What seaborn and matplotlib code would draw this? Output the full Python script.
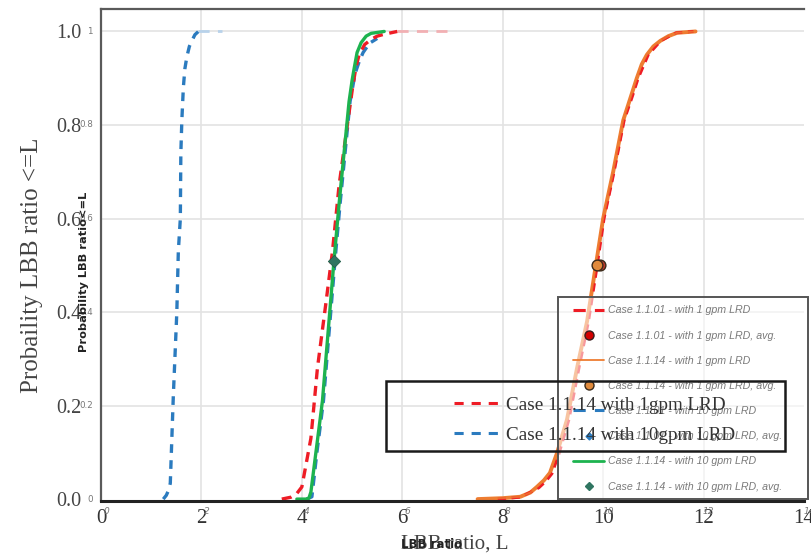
import numpy as np
import pandas as pd
import matplotlib
matplotlib.use("Agg")
import matplotlib.pyplot as plt
import seaborn as sns
from matplotlib.lines import Line2D
from matplotlib.patches import Rectangle
import matplotlib.transforms as mtransforms

# ---------------- data ----------------
# Case 1.1.01 - with 10 gpm LRD (blue dashed, low)
x_1101_10 = [1.24, 1.30, 1.35, 1.38, 1.44, 1.51, 1.54, 1.58, 1.59, 1.61, 1.64, 1.67, 1.71, 1.76, 1.81, 1.87, 1.94]
y_1101_10 = [0.0, 0.008, 0.02, 0.034, 0.22, 0.40, 0.53, 0.60, 0.74, 0.81, 0.88, 0.92, 0.946, 0.968, 0.98, 0.993, 1.0]
x_1101_10_tail = [1.94, 2.4]
y_1101_10_tail = [1.0, 1.0]

# Case 1.1.01 - with 1 gpm LRD (red dashed, near green)
x_1101_1 = [3.6, 3.78, 3.9, 4.0, 4.18, 4.31, 4.48, 4.61, 4.74, 4.88, 5.01, 5.08, 5.14, 5.25, 5.38, 5.5, 5.64, 5.9]
y_1101_1 = [0.0, 0.004, 0.012, 0.026, 0.13, 0.28, 0.42, 0.53, 0.67, 0.78, 0.88, 0.925, 0.95, 0.972, 0.983, 0.99, 0.994, 1.0]
x_1101_1_tail = [5.9, 7.0]
y_1101_1_tail = [1.0, 1.0]

# Case 1.1.14 with 10gpm LRD (blue dashed, overlay chart)
x_1114_10b = [4.10, 4.20, 4.30, 4.43, 4.56, 4.66, 4.76, 4.86, 4.96, 5.06, 5.14, 5.22, 5.35, 5.50]
y_1114_10b = [0.0, 0.005, 0.10, 0.21, 0.38, 0.51, 0.63, 0.74, 0.85, 0.91, 0.935, 0.955, 0.975, 0.985]

# Case 1.1.14 - with 10 gpm LRD (green solid)
x_1114_10 = [3.9, 4.08, 4.14, 4.18, 4.28, 4.41, 4.54, 4.64, 4.74, 4.84, 4.94, 5.0, 5.04, 5.10, 5.18, 5.28, 5.38, 5.64]
y_1114_10 = [0.0, 0.0, 0.002, 0.015, 0.10, 0.21, 0.38, 0.51, 0.63, 0.74, 0.85, 0.895, 0.92, 0.955, 0.976, 0.99, 0.996, 1.0]

# Case 1.1.14 - with 1 gpm LRD (orange solid)
x_1114_1 = [7.5, 8.0, 8.35, 8.55, 8.68, 8.82, 8.94, 9.08, 9.28, 9.48, 9.68, 9.84, 10.0, 10.2, 10.4, 10.55, 10.67, 10.77, 10.87, 11.0, 11.14, 11.3, 11.47, 11.84]
y_1114_1 = [0.0, 0.002, 0.005, 0.014, 0.026, 0.04, 0.056, 0.098, 0.17, 0.28, 0.38, 0.49, 0.60, 0.70, 0.81, 0.86, 0.90, 0.93, 0.95, 0.968, 0.98, 0.99, 0.997, 1.0]

# Case 1.1.14 with 1gpm LRD (red dashed along orange, overlay chart)
x_1114_1b = [7.9, 8.35, 8.72, 8.86, 8.98, 9.12, 9.32, 9.52, 9.71, 9.87, 10.02, 10.22, 10.42, 10.58, 10.7, 10.9, 11.15, 11.45, 11.8]
y_1114_1b = [0.0, 0.004, 0.024, 0.038, 0.054, 0.096, 0.17, 0.28, 0.38, 0.49, 0.60, 0.70, 0.81, 0.86, 0.90, 0.95, 0.98, 0.997, 1.0]

# averages
avg_x = [9.94, 9.88, 4.64, 4.64]
avg_y = [0.50, 0.50, 0.51, 0.51]

x_ticks = [0, 2, 4, 6, 8, 10, 12, 14]
y_ticks = [0.0, 0.2, 0.4, 0.6, 0.8, 1.0]
y_big_labels = ["0.0", "0.2", "0.4", "0.6", "0.8", "1.0"]
y_small_labels = ["0", "0.2", "0.4", "0.6", "0.8", "1"]

small_legend_labels = [
    "Case 1.1.01 - with 1 gpm LRD",
    "Case 1.1.01 - with 1 gpm LRD, avg.",
    "Case 1.1.14 - with 1 gpm LRD",
    "Case 1.1.14 - with 1 gpm LRD, avg.",
    "Case 1.1.01 - with 10 gpm LRD",
    "Case 1.1.01 - with 10 gpm LRD, avg.",
    "Case 1.1.14 - with 10 gpm LRD",
    "Case 1.1.14 - with 10 gpm LRD, avg.",
]
big_legend_labels = ["Case 1.1.14 with 1gpm LRD", "Case 1.1.14 with 10gpm LRD"]

# ---------------- styling ----------------
RED = "#ee1c25"
BLUE = "#2b7bbf"
GREEN = "#1db34f"
ORANGE = "#ee7d31"
DKGREEN = "#2f7561"
SERIF = "Liberation Serif"

sns.set_style("white")
plt.rcParams["font.family"] = ["DejaVu Sans"]

W, H = 811, 556
fig = plt.figure(figsize=(W / 100, H / 100), dpi=100)

ylim = (-0.003, 1.048)
ax = fig.add_axes([101 / W, 1 - 500.5 / H, 703 / W, (500.5 - 9) / H])
ax.set_xlim(0, 14)
ax.set_ylim(*ylim)

# grid
for gx in x_ticks[1:-1]:
    ax.axvline(gx, color="#e3e3e3", lw=1.2, zorder=0)
for gy in y_ticks[1:]:
    ax.axhline(gy, color="#e3e3e3", lw=1.2, zorder=0)

def line(x, y, color, lw, ls="-", z=3, alpha=1.0):
    sns.lineplot(x=x, y=y, ax=ax, color=color, lw=lw, linestyle=ls,
                 sort=False, estimator=None, zorder=z, alpha=alpha)

# curves
line(x_1101_10_tail, y_1101_10_tail, "#b8d2ea", 2.0, (0, (4, 3)), 2)
line(x_1101_10, y_1101_10, BLUE, 2.4, (0, (2.6, 2.2)), 3)
line(x_1101_1_tail, y_1101_1_tail, "#f2b0b3", 2.0, (0, (4, 3)), 2)
line(x_1114_10b, y_1114_10b, BLUE, 2.4, (0, (3, 2)), 3)
line(x_1101_1, y_1101_1, RED, 2.4, (0, (3, 2)), 3)
line(x_1114_10, y_1114_10, GREEN, 2.4, "-", 4)
line(x_1114_1, y_1114_1, ORANGE, 2.8, "-", 3)
line(x_1114_1b, y_1114_1b, RED, 2.0, (0, (3, 2)), 4)
line(x_1114_1, y_1114_1, ORANGE, 1.4, "-", 5, 0.8)

# average markers
sns.scatterplot(x=avg_x[:1], y=avg_y[:1], ax=ax, color="#c0392b", s=60, edgecolor="#3a2a1a", linewidth=1.0, zorder=6)
sns.scatterplot(x=avg_x[1:2], y=avg_y[1:2], ax=ax, color="#e08a3c", s=60, edgecolor="#3a2a1a", linewidth=1.0, zorder=7)
sns.scatterplot(x=avg_x[3:4], y=avg_y[3:4], ax=ax, color=BLUE, s=30, marker="o", linewidth=0, zorder=6)
sns.scatterplot(x=avg_x[2:3], y=avg_y[2:3], ax=ax, color=DKGREEN, s=40, marker="D", linewidth=0.5, edgecolor="#1e5a46", zorder=7)

# spines
ax.spines["right"].set_visible(False)
ax.spines["top"].set_color("#5a5a5a")
ax.spines["top"].set_linewidth(1.6)
ax.spines["left"].set_color("#5a5a5a")
ax.spines["left"].set_linewidth(1.6)
ax.spines["bottom"].set_color("#222222")
ax.spines["bottom"].set_linewidth(2.2)
ax.spines["bottom"].set_zorder(8)

# ticks
ax.set_xticks(x_ticks)
ax.set_xticklabels([str(v) for v in x_ticks], family=SERIF, fontsize=15, color="#333333")
ax.tick_params(axis="x", length=4, width=1.2, direction="inout", color="#333333", pad=4)
ax.set_yticks(y_ticks)
ax.set_yticklabels(y_big_labels, family=SERIF, fontsize=14.5, color="#444444")
ax.tick_params(axis="y", length=0, pad=14)

# small overlapped tick labels of the underlying chart
trans_y = mtransforms.blended_transform_factory(fig.transFigure, ax.transData)
for v, lab in zip(y_ticks, y_small_labels):
    fig.text(93 / W, v, lab, transform=trans_y, ha="right", va="center",
             fontsize=6.3, color="#777777")
trans_x = mtransforms.blended_transform_factory(ax.transData, fig.transFigure)
for v in x_ticks:
    fig.text(v + 0.1, 1 - 512 / H, str(v), transform=trans_x, ha="center", va="center",
             fontsize=6.5, color="#777777", style="italic")

# axis labels (two overlapping charts)
fig.text(32 / W, 1 - 265 / H, "Probaility LBB ratio <=L", rotation=90, ha="center", va="center",
         family=SERIF, fontsize=18, color="#444444")
fig.text(84 / W, 1 - 272 / H, "Probability LBB ratio<=L", rotation=90, ha="center", va="center",
         fontsize=8.2, fontweight="bold", color="#222222")
fig.text(455 / W, 1 - 544 / H, "LBB ratio, L", ha="center", va="center",
         family=SERIF, fontsize=15, color="#444444")
fig.text(432 / W, 1 - 544 / H, "LBB ratio", ha="center", va="center",
         fontsize=8.5, fontweight="bold", color="#222222")

# small legend (underlying chart)
fig.patches.append(Rectangle((558 / W, 1 - 499 / H), 250 / W, 202 / H, transform=fig.transFigure,
                             facecolor="white", alpha=0.55, edgecolor="none", zorder=9))
fig.patches.append(Rectangle((558 / W, 1 - 499 / H), 250 / W, 202 / H, transform=fig.transFigure,
                             facecolor="none", edgecolor="#555555", lw=1.4, zorder=10))
small_handles = [
    Line2D([], [], color=RED, lw=2.2, linestyle=(0, (4, 3))),
    Line2D([], [], color="#d40000", marker="o", markersize=6.5, markeredgecolor="#3a1a1a", linestyle="none"),
    Line2D([], [], color=ORANGE, lw=1.3),
    Line2D([], [], color="#e08a3c", marker="o", markersize=6.5, markeredgecolor="#3a2a1a", linestyle="none"),
    Line2D([], [], color=BLUE, lw=2.2, linestyle=(0, (4, 3))),
    Line2D([], [], color=BLUE, marker="D", markersize=3.5, linestyle="none"),
    Line2D([], [], color=GREEN, lw=2.0),
    Line2D([], [], color=DKGREEN, marker="D", markersize=4.5, linestyle="none"),
]
leg1 = fig.legend(small_handles, small_legend_labels, loc="upper left",
                  bbox_to_anchor=(568 / W, 1 - 300 / H), frameon=False, borderpad=0,
                  prop={"family": "Liberation Sans", "style": "italic", "size": 7.7},
                  labelcolor="#7a7a7a", handlelength=2.9, handletextpad=0.35, labelspacing=1.42)
leg1.set_zorder(11)

# big legend (overlay chart)
fig.patches.append(Rectangle((386 / W, 1 - 451 / H), 399 / W, 70 / H, transform=fig.transFigure,
                             facecolor="none", edgecolor="#1a1a1a", lw=1.8, zorder=12))
big_handles = [
    Line2D([], [], color=RED, lw=2.2, linestyle=(0, (3, 2.6))),
    Line2D([], [], color=BLUE, lw=2.2, linestyle=(0, (3, 2.6))),
]
leg2 = fig.legend(big_handles, big_legend_labels, loc="upper left",
                  bbox_to_anchor=(444 / W, 1 - 387 / H), frameon=False, borderpad=0,
                  prop={"family": SERIF, "size": 13.8}, labelcolor="#333333",
                  handlelength=2.4, handletextpad=0.35, labelspacing=0.65)
leg2.set_zorder(13)

fig.savefig("out.png", dpi=100)
